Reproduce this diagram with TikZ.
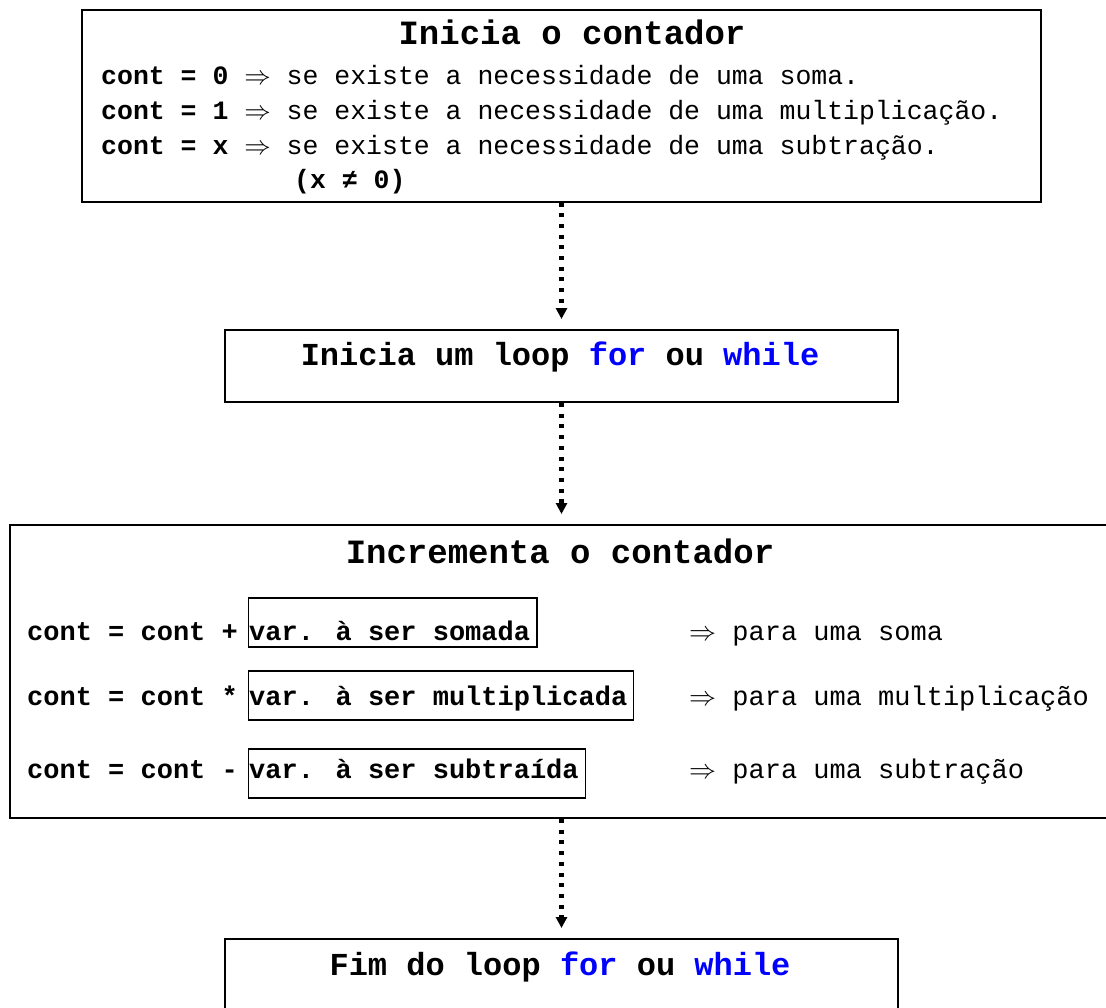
\RequirePackage{fix-cm}
\documentclass[tikz,border=0pt]{standalone}
\usepackage{fontspec}
\setmainfont{Liberation Mono}
\usetikzlibrary{arrows.meta}
\definecolor{kw}{RGB}{0,0,255}
\newcommand{\bodyfs}{\fontsize{27}{32}\selectfont}
\newcommand{\bodyfsa}{\fontsize{26.5}{32}\selectfont}
\newcommand{\titlefs}{\fontsize{34}{40}\selectfont\bfseries}
\newcommand{\titlefsb}{\fontsize{32}{38}\selectfont\bfseries}
\begin{document}
\begin{tikzpicture}[x=1pt,y=-1pt,
  box/.style={draw, line width=2pt, inner sep=0pt, anchor=north west},
  ibox/.style={draw, line width=1.5pt, inner sep=0pt, anchor=north west},
  txt/.style={anchor=base west, inner sep=0pt, font=\bodyfs},
  txta/.style={anchor=base west, inner sep=0pt, font=\bodyfsa},
  ttl/.style={anchor=base, inner sep=0pt},
  arr/.style={line width=4.5pt, dash pattern=on 4pt off 6.7pt, shorten >=10pt,
    -{Triangle[width=11pt,length=11pt]}}
]
\useasboundingbox (0,0) rectangle (1106,1007);
\clip (0,0) rectangle (1106,1007);
\fill[white] (0,0) rectangle (1106,1007);

% boxes
\node[box, minimum width=959pt, minimum height=192pt] (b1) at (80.7,8.5) {};
\node[box, minimum width=673pt, minimum height=72pt] (b2) at (224,329) {};
\node[box, minimum width=1110pt, minimum height=293pt] (b3) at (8.5,524) {};
\node[box, minimum width=673pt, minimum height=120pt] (b4) at (224,938) {};

% box 1 text
\node[ttl, font=\titlefs] (t1) at (572,44.3) {Inicia o contador};
\node[txta] (l1) at (101,84.3) {\textbf{cont = 0} $\Rightarrow$ se existe a necessidade de uma soma.};
\node[txta] (l2) at (101,119.3) {\textbf{cont = 1} $\Rightarrow$ se existe a necessidade de uma multiplicação.};
\node[txta] (l3) at (101,154.3) {\textbf{cont = x} $\Rightarrow$ se existe a necessidade de uma subtração.};
\node[txta] (l4) at (294,188.5) {\textbf{(x ≠ 0)}};

% box 2 text
\node[ttl, font=\titlefsb] (t2) at (560,365) {Inicia um loop \textcolor{kw}{for} ou \textcolor{kw}{while}};

% box 3 text
\node[ttl, font=\titlefs] (t3) at (560,563.3) {Incrementa o contador};
\node[ibox, minimum width=288.5pt, minimum height=49pt] (i1) at (247.5,597) {};
\node[ibox, minimum width=385pt, minimum height=49pt] (i2) at (247.5,670) {};
\node[ibox, minimum width=337pt, minimum height=49pt] (i3) at (247.5,748) {};
\node[txt] (c1) at (27,640) {\textbf{cont = cont +}};
\node[txt] (c2) at (27,705) {\textbf{cont = cont *}};
\node[txt] (c3) at (27,778) {\textbf{cont = cont -}};
\node[txt] (v1) at (249,640) {\textbf{var. à ser somada}};
\node[txt] (v2) at (249,705) {\textbf{var. à ser multiplicada}};
\node[txt] (v3) at (249,778) {\textbf{var. à ser subtraída}};
\node[txt] (p1) at (689,640) {$\Rightarrow$ para uma soma};
\node[txt] (p2) at (689,705) {$\Rightarrow$ para uma multiplicação};
\node[txt] (p3) at (689,778) {$\Rightarrow$ para uma subtração};

% box 4 text
\node[ttl, font=\titlefsb] (t4) at (560,975) {Fim do loop \textcolor{kw}{for} ou \textcolor{kw}{while}};

% connectors
\draw[arr] (b1.south -| b2.north) -- (b2.north);
\draw[arr] (b2.south) -- (b2.south |- b3.north);
\draw[arr] (b3.south -| b4.north) -- (b4.north);
\end{tikzpicture}
\end{document}
